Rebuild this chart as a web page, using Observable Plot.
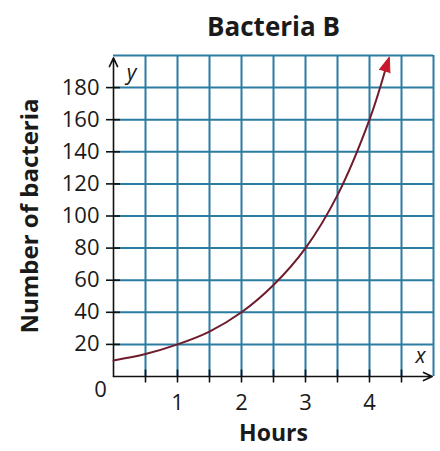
<!DOCTYPE html>
<html>
<head>
<meta charset="utf-8">
<script src="https://cdn.jsdelivr.net/npm/d3@7"></script>
<script src="https://cdn.jsdelivr.net/npm/@observablehq/plot@0.6"></script>
<style>
  html, body { margin: 0; padding: 0; background: #fff; }
  svg { display: block; }
</style>
</head>
<body>
<div id="chart"></div>
<script>
// Data
const hours    = [0, 0.5, 1, 1.5, 2, 2.5, 3, 3.5, 4, 4.24];
const bacteria = [10, 14, 20, 28, 40, 57, 80, 113, 160, 190];
const arrowTip = {x: 4.31, y: 199};

const xTicks = [0.5, 1, 1.5, 2, 2.5, 3, 3.5, 4, 4.5];
const xLabels = [1, 2, 3, 4];
const yTicks = [20, 40, 60, 80, 100, 120, 140, 160, 180];
const xGrid = [0.5, 1, 1.5, 2, 2.5, 3, 3.5, 4, 4.5, 5];
const yGrid = [20, 40, 60, 80, 100, 120, 140, 160, 180, 200];

const title = "Bacteria B";
const xTitle = "Hours";
const yTitle = "Number of bacteria";

const curve = hours.map((h, i) => ({h, n: bacteria[i]}));

const FONT = "'Open Sans', 'Noto Sans', sans-serif";
const GRID = "#2a7ca3";
const CURVE = "#6e1c2c";
const INK = "#1a1a1a";
const blank = () => "";

const chart = Plot.plot({
  width: 440,
  height: 451,
  marginLeft: 113,
  marginRight: 7,
  marginTop: 55,
  marginBottom: 75,
  style: {fontFamily: FONT, fontSize: "22px", color: INK, background: "#fff"},
  x: {domain: [0, 5]},
  y: {domain: [0, 200]},
  marks: [
    Plot.gridX(xGrid, {stroke: GRID, strokeOpacity: 1, strokeWidth: 2}),
    Plot.gridY(yGrid, {stroke: GRID, strokeOpacity: 1, strokeWidth: 2}),
    // axes lines with arrows
    Plot.arrow([{x1: 0, y1: 0, x2: 0, y2: 198.5}], {x1: "x1", y1: "y1", x2: "x2", y2: "y2", stroke: "#111", strokeWidth: 1.6, headLength: 9, headAngle: 50}),
    Plot.arrow([{x1: 0, y1: 0, x2: 4.98, y2: 0}], {x1: "x1", y1: "y1", x2: "x2", y2: "y2", stroke: "#111", strokeWidth: 1.6, headLength: 9, headAngle: 50}),
    // tick marks crossing the axes
    Plot.axisX({ticks: xTicks, tickFormat: blank, tickSize: 13, dy: -6.5, stroke: "#111", strokeWidth: 1.6, label: null}),
    Plot.axisX({ticks: xLabels, tickFormat: "d", tickSize: 0, tickPadding: 18, fontSize: 22, fill: INK, label: null}),
    Plot.axisY({ticks: yTicks, tickFormat: blank, tickSize: 14, dx: 7, stroke: "#111", strokeWidth: 1.6, label: null}),
    Plot.axisY({ticks: yTicks, tickFormat: "d", tickSize: 0, tickPadding: 14, fontSize: 22, fill: INK, label: null}),
    // curve
    Plot.line(curve, {x: "h", y: "n", curve: "catmull-rom", stroke: CURVE, strokeWidth: 2}),
    Plot.vector([arrowTip], {x: "x", y: "y", length: 15, rotate: 18, anchor: "end", shape: "spike", r: 5.5, fill: "#c8182c", stroke: "#c8182c", strokeWidth: 1}),
    // texts
    Plot.text(["0"], {frameAnchor: "bottom-left", textAnchor: "middle", dx: -13, dy: 20, fontSize: 22, fill: INK}),
    Plot.text(["y"], {frameAnchor: "top-left", textAnchor: "middle", dx: 18, dy: 10, fontSize: 21, fontStyle: "italic", fill: INK}),
    Plot.text(["x"], {frameAnchor: "bottom-right", textAnchor: "middle", dx: -13, dy: -14, fontSize: 21, fontStyle: "italic", fill: INK}),
    Plot.text([title], {frameAnchor: "top", textAnchor: "middle", dy: -38, fontSize: 26, fontWeight: "bold", fill: INK}),
    Plot.text([xTitle], {frameAnchor: "bottom", textAnchor: "middle", dy: 64, fontSize: 23, fontWeight: "bold", fill: INK}),
    Plot.text([yTitle], {frameAnchor: "left", textAnchor: "middle", dx: -83, rotate: -90, fontSize: 24, fontWeight: "bold", fill: INK})
  ]
});
document.getElementById("chart").appendChild(chart);
</script>
</body>
</html>
